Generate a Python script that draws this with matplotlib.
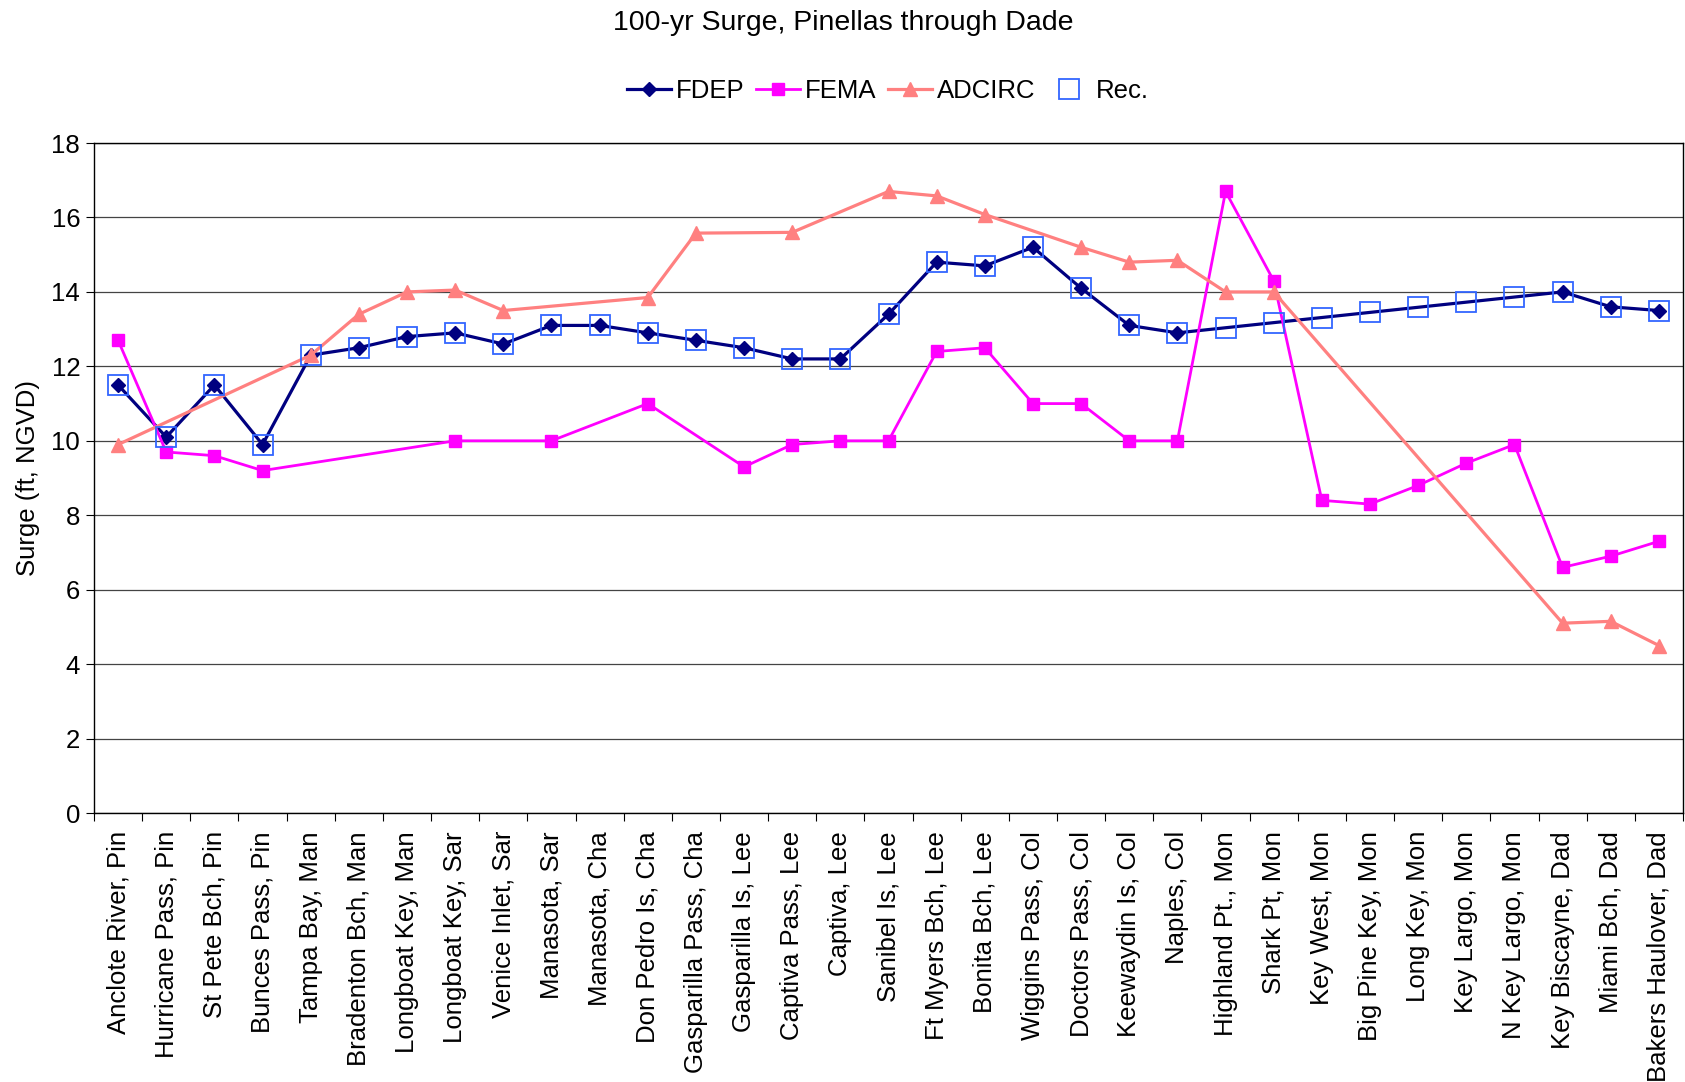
import numpy as np
import matplotlib
matplotlib.use("Agg")
import matplotlib.pyplot as plt

plt.rcParams['font.family'] = ['Liberation Sans', 'DejaVu Sans']

nan = np.nan

stations = [
    "Anclote River, Pin", "Hurricane Pass, Pin", "St Pete Bch, Pin", "Bunces Pass, Pin",
    "Tampa Bay, Man", "Bradenton Bch, Man", "Longboat Key, Man", "Longboat Key, Sar",
    "Venice Inlet, Sar", "Manasota, Sar", "Manasota, Cha", "Don Pedro Is, Cha",
    "Gasparilla Pass, Cha", "Gasparilla Is, Lee", "Captiva Pass, Lee", "Captiva, Lee",
    "Sanibel Is, Lee", "Ft Myers Bch, Lee", "Bonita Bch, Lee", "Wiggins Pass, Col",
    "Doctors Pass, Col", "Keewaydin Is, Col", "Naples, Col", "Highland Pt., Mon",
    "Shark Pt, Mon", "Key West, Mon", "Big Pine Key, Mon", "Long Key, Mon",
    "Key Largo, Mon", "N Key Largo, Mon", "Key Biscayne, Dad", "Miami Bch, Dad",
    "Bakers Haulover, Dad",
]

fdep = [11.5, 10.1, 11.5, 9.9, 12.3, 12.5, 12.8, 12.9, 12.6, 13.1, 13.1, 12.9,
        12.7, 12.5, 12.2, 12.2, 13.4, 14.8, 14.7, 15.2, 14.1, 13.1, 12.9,
        nan, nan, nan, nan, nan, nan, nan, 14.0, 13.6, 13.5]

fema = [12.7, 9.7, 9.6, 9.2, nan, nan, nan, 10.0, nan, 10.0, nan, 11.0,
        nan, 9.3, 9.9, 10.0, 10.0, 12.4, 12.5, 11.0, 11.0, 10.0, 10.0,
        16.7, 14.3, 8.4, 8.3, 8.8, 9.4, 9.9, 6.6, 6.9, 7.3]

adcirc = [9.9, nan, nan, nan, 12.3, 13.4, 14.0, 14.05, 13.5, nan, nan, 13.85,
          15.58, nan, 15.6, nan, 16.7, 16.58, 16.08, nan, 15.2, 14.8, 14.85,
          14.0, 14.0, nan, nan, nan, nan, nan, 5.1, 5.15, 4.5]

rec = [11.5, 10.1, 11.5, 9.9, 12.3, 12.5, 12.8, 12.9, 12.6, 13.1, 13.1, 12.9,
       12.7, 12.5, 12.2, 12.2, 13.4, 14.8, 14.7, 15.2, 14.1, 13.1, 12.9,
       13.03, 13.16, 13.3, 13.45, 13.59, 13.74, 13.87, 14.0, 13.6, 13.5]


def present(vals):
    v = np.array(vals, dtype=float)
    idx = np.arange(len(v))
    m = ~np.isnan(v)
    return idx[m], v[m]


fs = 18.5

fig = plt.figure(figsize=(16.85, 10.82), dpi=100)
ax = fig.add_axes([0.0558, 0.2486, 0.943, 0.6192])

x, y = present(fdep)
ax.plot(x, y, color='#000080', lw=2.3, marker='D', ms=7.5, mec='#000080',
        label='FDEP', zorder=3)
x, y = present(fema)
ax.plot(x, y, color='#FF00FF', lw=2.0, marker='s', ms=8.5, mec='#FF00FF',
        label='FEMA', zorder=3)
x, y = present(adcirc)
ax.plot(x, y, color='#FF8080', lw=2.3, marker='^', ms=9.5, mec='#FF8080',
        label='ADCIRC', zorder=4)
x, y = present(rec)
ax.plot(x, y, ls='none', marker='s', ms=14, mfc='none', mec='#3366FF',
        mew=1.3, label='Rec.', zorder=5)

n = len(stations)
ax.set_xlim(-0.5, n - 0.5)
ax.set_ylim(0, 18)
ax.set_yticks(np.arange(0, 19, 2))
ax.set_xticks(np.arange(n))
ax.set_xticklabels(stations, rotation=90, fontsize=fs)
ax.set_xticks(np.arange(n + 1) - 0.5, minor=True)
ax.tick_params(axis='x', which='major', length=0, pad=13)
ax.tick_params(axis='x', which='minor', length=6, direction='out', width=0.8)
ax.tick_params(axis='y', length=6, direction='out', width=0.8, labelsize=fs, pad=4)

ax.grid(axis='y', color='#444444', lw=0.9)
ax.set_axisbelow(True)
for s in ax.spines.values():
    s.set_color('black')
    s.set_linewidth(1.0)

ax.set_ylabel('Surge (ft, NGVD)', fontsize=fs, labelpad=8)

fig.text(0.5005, 0.979, '100-yr Surge, Pinellas through Dade', ha='center',
         va='center', fontsize=20.5)

fig.legend(loc='center', bbox_to_anchor=(0.527, 0.9156), ncol=4, frameon=False,
           fontsize=fs, handlelength=1.7, handletextpad=0.2, columnspacing=0.45,
           borderaxespad=0)

fig.savefig('out.png', dpi=100)
